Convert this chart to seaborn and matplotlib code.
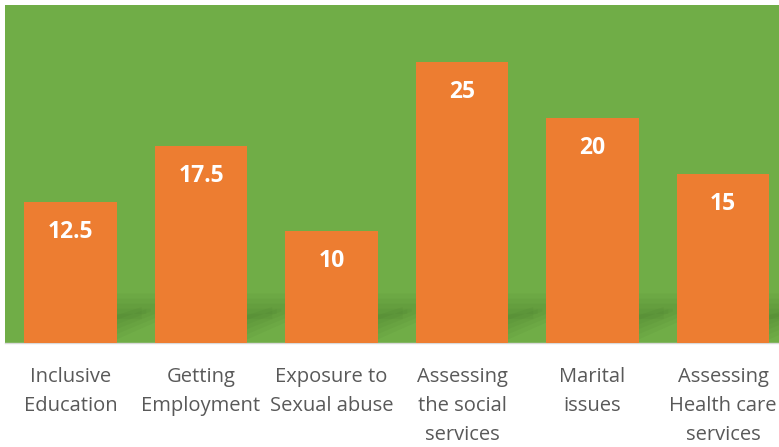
import matplotlib
matplotlib.use("Agg")
import matplotlib.pyplot as plt
import seaborn as sns
import pandas as pd
from matplotlib.patches import Polygon

categories = ["Inclusive\nEducation", "Getting\nEmployment", "Exposure to\nSexual abuse",
              "Assessing\nthe social\nservices", "Marital\nissues",
              "Assessing\nHealth care\nservices"]
values = [12.5, 17.5, 10, 25, 20, 15]
value_labels = ["12.5", "17.5", "10", "25", "20", "15"]

green = "#70AD47"
orange = "#ED7D31"

sns.set_style("white")
plt.rcParams['font.family'] = ['Open Sans', 'DejaVu Sans']

df = pd.DataFrame({"cat": categories, "val": values})

fig = plt.figure(figsize=(7.79, 4.47), dpi=100)
ax = fig.add_axes([5.25 / 779, (447 - 343) / 447, 783 / 779, 338 / 447])
ax.set_facecolor(green)

sns.barplot(data=df, x="cat", y="val", color=orange, width=0.705,
            saturation=1, linewidth=0, ax=ax, zorder=3)
ax.set_xlim(-0.5, len(values) - 0.5)
ax.set_ylim(0, 30.07)

# soft floor shadow cast to the right of each bar
for i, v in enumerate(values):
    for k in range(6):
        d = 0.035 * k
        top = 4.4 - 0.45 * k
        poly = Polygon([(i, 0.2 + 0.3 * k), (i + 0.33 - d, 0.2 + 0.3 * k),
                        (i + 0.72 - d, 2.2 + 0.2 * k), (i + 0.72 - d, top),
                        (i, top)],
                       closed=True, facecolor="#2f5a1e", edgecolor="none",
                       alpha=0.06, zorder=2)
        ax.add_patch(poly)

for i, (v, lab) in enumerate(zip(values, value_labels)):
    ax.annotate(lab, (i, v), xytext=(0, -30), textcoords="offset pixels",
                ha="center", va="center", color="white", fontsize=16.5,
                fontweight="bold", zorder=5)

ax.set_xlabel("")
ax.set_ylabel("")
ax.set_yticks([])
ax.tick_params(axis="x", length=0, pad=17, labelsize=14.5, labelcolor="#595959")
for lab in ax.get_xticklabels():
    lab.set_linespacing(1.6)
    lab.set_va("top")
for s in ["top", "right", "left"]:
    ax.spines[s].set_visible(False)
ax.spines["bottom"].set_color("#D9D9D9")
ax.spines["bottom"].set_linewidth(1)

fig.savefig("out.png", dpi=100)
